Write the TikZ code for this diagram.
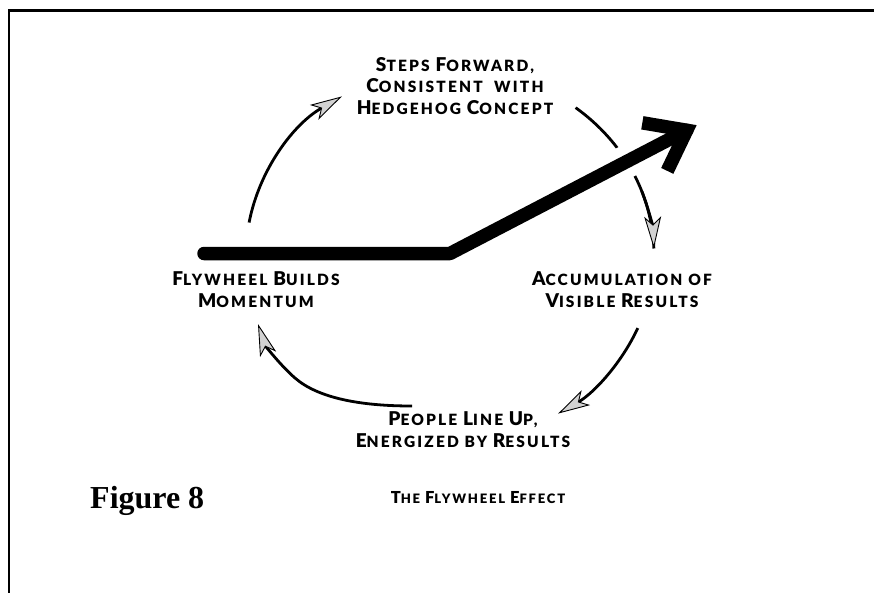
\documentclass[tikz,border=0pt]{standalone}
\usepackage{fontspec}
\usetikzlibrary{arrows.meta}
\newfontfamily\lblfont{Lato}[LetterSpace=14, BoldFont={Lato Black}]
\setmainfont{Liberation Serif}
% large initial capitals for the small-caps style labels
\newcommand\Lg[1]{{\fontsize{19}{21}\selectfont #1}}
\newcommand\Sm[1]{{\fontsize{16.5}{21}\selectfont #1}}
\tikzset{
  lbl/.style={align=center, inner sep=0pt, anchor=base,
    font=\lblfont\bfseries\fontsize{15.5}{21.5}\selectfont},
  cycle/.style={line width=2.8pt, draw=black,
    -{Stealth[length=32pt, width=17pt, inset=8pt, fill=gray!35, line width=0.9pt]}},
  cyclebare/.style={line width=2.8pt, draw=black},
  thick arrow/.style={line width=13.5pt, draw=black}
}
\begin{document}
\begin{tikzpicture}[x=1pt, y=-1pt]
\useasboundingbox (0,0) rectangle (874,592);
\fill[white] (0,0) rectangle (874,592);

% frame
\draw[line width=2.6pt] (9,600) -- (9,10.5) -- (880,10.5);

% labels (anchored on the baseline of their last line)
\node[lbl] (steps) at (455,114) {{\Lg S}TEPS {\Lg F}ORWARD,\\{\Lg C}ONSISTENT\ \ WITH\\{\Lg H}EDGEHOG {\Lg C}ONCEPT};
\node[lbl] (builds) at (256,307) {{\Lg F}LYWHEEL {\Lg B}UILDS\\{\Lg M}OMENTUM};
\node[lbl] (accum) at (622,307) {{\Lg A}CCUMULATION OF\\{\Lg V}ISIBLE {\Lg R}ESULTS};
\node[lbl] (people) at (463,447) {{\Lg P}EOPLE {\Lg L}INE {\Lg U}P,\\{\Lg E}NERGIZED BY {\Lg R}ESULTS};
\node[lbl, font=\lblfont\bfseries\fontsize{13}{18}\selectfont] (effect) at (478,503)
  {{\Sm T}HE {\Sm F}LYWHEEL {\Sm E}FFECT};
\node[inner sep=0pt, anchor=base west, font=\bfseries\fontsize{32}{36}\selectfont] (fig) at (90,508) {Figure 8};

% the cycle of arcs around the wheel
\coordinate (ctr) at (450,255);
\draw[cycle, shift={(ctr)}] (190:204 and 187) arc[start angle=190, end angle=238, x radius=204, y radius=187];
\draw[cyclebare, shift={(ctr)}] (308:204 and 187) arc[start angle=308, end angle=358, x radius=204, y radius=187];
\draw[cycle, shift={(ctr)}] (340:204 and 187) arc[start angle=340, end angle=358, x radius=204, y radius=187];
\draw[cycle, shift={(ctr)}] (23:204 and 187) arc[start angle=23, end angle=58, x radius=204, y radius=187];
\coordinate (bl0) at (412,406);
\coordinate (bl1) at (295,378);
\coordinate (bl2) at (258,324);
\draw[cycle] (bl0) .. controls (360,406) and (318,398) .. (bl1)
  .. controls (280,365) and (265,345) .. (bl2);

% momentum arrow
\coordinate (tail) at (204,253.5);
\coordinate (knee) at (450,253.5);
\coordinate (tipv) at (686.7,130.3);
\draw[white, line width=33pt] (knee) -- (tipv);
\draw[thick arrow, line cap=round, line join=round] (tail) -- (knee) -- (tipv);
\draw[thick arrow, line join=miter] (tipv) ++(189.6:45) -- (tipv) -- ++(115.6:45);
\end{tikzpicture}
\end{document}
